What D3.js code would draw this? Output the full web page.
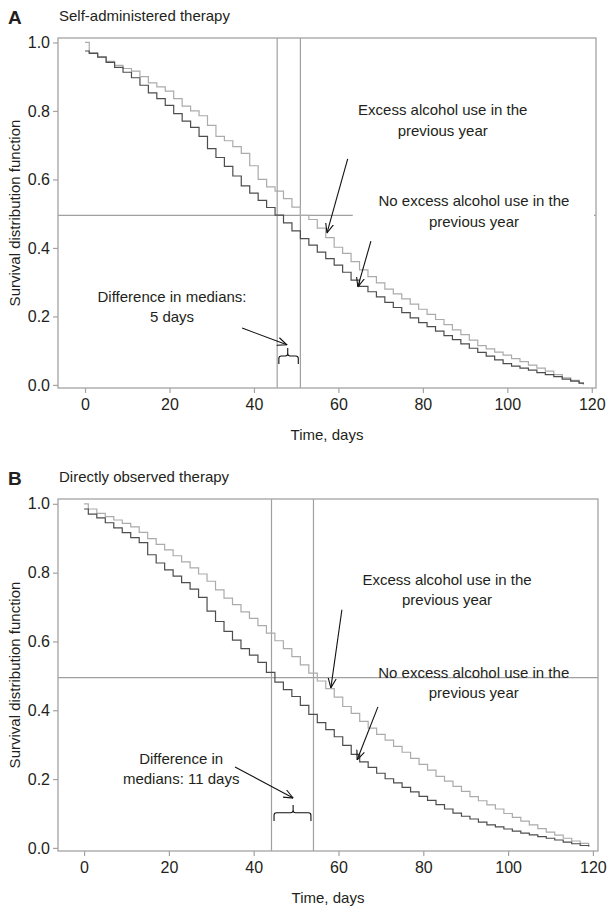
<!DOCTYPE html>
<html>
<head>
<meta charset="utf-8">
<script src="https://cdn.jsdelivr.net/npm/d3@7"></script>
<style>
  html, body { margin: 0; padding: 0; background: #fff; }
  svg { display: block; font-family: "Liberation Sans", Arial, sans-serif; }
</style>
</head>
<body>
<svg id="chart" width="613" height="916"></svg>
<script>
// days at which the step curves were read (step holds until next day listed)
const daysA = [0, 1, 3, 5, 7, 9, 11, 13, 15, 17, 19, 21, 23, 25, 27, 29, 31, 33, 35, 37, 39, 41, 43, 45, 47, 49, 51, 53, 55, 57,
  59, 61, 63, 65, 67, 69, 71, 73, 75, 77, 79, 81, 83, 85, 87, 89, 91, 93, 95, 97, 99, 101, 103, 105, 107, 109, 111, 113, 115, 117, 118];
const daysB = [0, 1, 3, 5, 7, 9, 11, 13, 15, 17, 19, 21, 23, 25, 27, 29, 31, 33, 35, 37, 39, 41, 43, 45, 47, 49, 51, 53, 55, 57,
  59, 61, 63, 65, 67, 69, 71, 73, 75, 77, 79, 81, 83, 85, 87, 89, 91, 93, 95, 97, 99, 101, 103, 105, 107, 109, 111, 113, 115, 117, 119];

// A: self-administered therapy
const excessA = [1.000, 0.970, 0.958, 0.945, 0.933, 0.924, 0.916, 0.900, 0.882, 0.870, 0.858, 0.836,
  0.814, 0.800, 0.786, 0.758, 0.726, 0.713, 0.696, 0.676, 0.640, 0.600, 0.578, 0.566,
  0.544, 0.519, 0.495, 0.483, 0.458, 0.430, 0.402, 0.384, 0.360, 0.336, 0.316, 0.298,
  0.280, 0.266, 0.251, 0.236, 0.221, 0.206, 0.191, 0.176, 0.161, 0.147, 0.131, 0.115,
  0.105, 0.096, 0.087, 0.077, 0.068, 0.058, 0.049, 0.040, 0.030, 0.021, 0.013, 0.005, 0.002];
const noExcessA = [0.975, 0.968, 0.957, 0.942, 0.927, 0.913, 0.897, 0.875, 0.853, 0.836, 0.816, 0.792,
  0.770, 0.752, 0.726, 0.690, 0.664, 0.638, 0.610, 0.581, 0.560, 0.539, 0.518, 0.496,
  0.473, 0.450, 0.427, 0.408, 0.388, 0.369, 0.350, 0.329, 0.306, 0.288, 0.272, 0.257,
  0.241, 0.226, 0.211, 0.196, 0.182, 0.170, 0.157, 0.144, 0.132, 0.120, 0.107, 0.095,
  0.084, 0.073, 0.062, 0.055, 0.049, 0.043, 0.036, 0.030, 0.024, 0.017, 0.011, 0.005, 0.002];

// B: directly observed therapy
const excessB = [1.000, 0.985, 0.972, 0.963, 0.953, 0.943, 0.933, 0.917, 0.899, 0.882, 0.866, 0.849,
  0.831, 0.814, 0.796, 0.775, 0.750, 0.726, 0.707, 0.686, 0.667, 0.646, 0.624, 0.602,
  0.579, 0.556, 0.532, 0.508, 0.485, 0.463, 0.438, 0.411, 0.391, 0.368, 0.348, 0.330,
  0.313, 0.295, 0.278, 0.260, 0.243, 0.226, 0.208, 0.194, 0.179, 0.164, 0.149, 0.137,
  0.125, 0.113, 0.100, 0.089, 0.078, 0.067, 0.056, 0.046, 0.037, 0.028, 0.020, 0.013, 0.004];
const noExcessB = [0.985, 0.970, 0.959, 0.945, 0.930, 0.916, 0.902, 0.887, 0.852, 0.828, 0.808, 0.790,
  0.771, 0.752, 0.728, 0.688, 0.658, 0.629, 0.604, 0.579, 0.560, 0.539, 0.510, 0.482,
  0.460, 0.440, 0.414, 0.388, 0.364, 0.344, 0.323, 0.298, 0.272, 0.250, 0.234, 0.217,
  0.201, 0.189, 0.176, 0.163, 0.150, 0.138, 0.126, 0.113, 0.101, 0.092, 0.084, 0.075,
  0.067, 0.061, 0.055, 0.049, 0.043, 0.038, 0.033, 0.028, 0.023, 0.017, 0.012, 0.007, 0.004];

const mediansA = [45.5, 51];
const mediansB = [44.2, 54.1];

const xTicks = [0, 20, 40, 60, 80, 100, 120];
const yTicks = [0, 0.2, 0.4, 0.6, 0.8, 1.0];

const excessLabel = ['Excess alcohol use in the', 'previous year'];
const noExcessLabel = ['No excess alcohol use in the', 'previous year'];

const panels = [
  {
    letter: 'A', title: 'Self-administered therapy',
    days: daysA, excess: excessA, noExcess: noExcessA, medians: mediansA,
    diffLabel: ['Difference in medians:', '5 days'],
    top: 38, bottom: 388, left: 58, right: 596,
    xDomain: [-6.4, 121], yDomain: [-0.009, 1.013],
    titleY: 21, hLineEnd: 63.4, maskText: true,
    excessText: [84.7, 0.787], excessArrow: [[62.2, 0.660], [57.3, 0.444]],
    noExcessText: [92.1, 0.521], noExcessArrow: [[67.7, 0.420], [64.6, 0.286]],
    diffText: [20.6, 0.2435], diffArrow: [[37.2, 0.166], [47.8, 0.117]],
    brace: { x1: 45.9, x2: 50.5, xc: 48.0, yH: 0.0844, yEnd: 0.061, yPeak: 0.108 }
  },
  {
    letter: 'B', title: 'Directly observed therapy',
    days: daysB, excess: excessB, noExcess: noExcessB, medians: mediansB,
    diffLabel: ['Difference in', 'medians: 11 days'],
    top: 499, bottom: 851, left: 58, right: 598,
    xDomain: [-6.15, 121.2], yDomain: [-0.009, 1.014],
    titleY: 482, hLineEnd: null, maskText: false,
    excessText: [85.6, 0.765], excessArrow: [[60.8, 0.692], [58.2, 0.465]],
    noExcessText: [91.9, 0.494], noExcessArrow: [[69.3, 0.410], [64.4, 0.256]],
    diffText: [22.9, 0.244], diffArrow: [[35.6, 0.235], [49.3, 0.145]],
    brace: { x1: 44.8, x2: 53.5, xc: 49.3, yH: 0.102, yEnd: 0.078, yPeak: 0.125 }
  }
];

const frameColor = '#a3a3a3';
const refColor = '#a0a0a0';
const lightColor = '#ababab';
const darkColor = '#4d4d4d';
const textColor = '#231f20';
const lineGap = 20.5;

const svg = d3.select('#chart');

svg.append('defs').append('marker')
  .attr('id', 'arrow')
  .attr('viewBox', '0 0 10 10')
  .attr('refX', 9.5)
  .attr('refY', 5)
  .attr('markerWidth', 10)
  .attr('markerHeight', 10)
  .attr('markerUnits', 'userSpaceOnUse')
  .attr('orient', 'auto')
  .append('path')
    .attr('d', 'M0,1 L9.5,5 L0,9')
    .attr('fill', 'none')
    .attr('stroke', '#111')
    .attr('stroke-width', 1.1);

function twoLines(g, x, y, lines) {
  const t = g.append('text')
    .attr('x', x)
    .attr('y', y)
    .attr('text-anchor', 'middle')
    .attr('font-size', 15)
    .attr('fill', textColor);
  lines.forEach((line, i) => {
    t.append('tspan').attr('x', x).attr('dy', i === 0 ? 0 : lineGap).text(line);
  });
}

function drawPanel(p) {
  const g = svg.append('g');

  const x = d3.scaleLinear().domain(p.xDomain).range([p.left, p.right]);
  const y = d3.scaleLinear().domain(p.yDomain).range([p.bottom, p.top]);

  // panel letter + title
  g.append('text')
    .attr('x', 8).attr('y', p.titleY + 3)
    .attr('font-size', 19).attr('font-weight', 'bold')
    .attr('fill', textColor)
    .text(p.letter);
  g.append('text')
    .attr('x', 59).attr('y', p.titleY)
    .attr('font-size', 15)
    .attr('fill', textColor)
    .text(p.title);

  // axes
  const xAxis = g.append('g')
    .attr('transform', `translate(0, ${p.bottom})`)
    .call(d3.axisBottom(x).tickValues(xTicks).tickSize(5).tickSizeOuter(0).tickPadding(6));
  const yAxis = g.append('g')
    .attr('transform', `translate(${p.left}, 0)`)
    .call(d3.axisLeft(y).tickValues(yTicks).tickFormat(d3.format('.1f')).tickSize(5).tickSizeOuter(0).tickPadding(3));

  [xAxis, yAxis].forEach((a) => {
    a.select('.domain').remove();
    a.selectAll('.tick line').attr('stroke', frameColor).attr('stroke-width', 1.2);
    a.selectAll('.tick text')
      .attr('font-size', 16)
      .attr('font-family', '"Liberation Sans", Arial, sans-serif')
      .attr('fill', textColor);
  });

  g.append('text')
    .attr('x', (p.left + p.right) / 2)
    .attr('y', p.bottom + 52)
    .attr('text-anchor', 'middle')
    .attr('font-size', 15)
    .attr('fill', textColor)
    .text('Time, days');

  g.append('text')
    .attr('transform', `translate(20, ${(p.top + p.bottom) / 2}) rotate(-90)`)
    .attr('text-anchor', 'middle')
    .attr('font-size', 15)
    .attr('fill', textColor)
    .text('Survival distribution function');

  // reference lines at the medians and at 0.5
  p.medians.forEach((m) => {
    g.append('line')
      .attr('x1', x(m)).attr('x2', x(m))
      .attr('y1', p.top).attr('y2', p.bottom)
      .attr('stroke', refColor).attr('stroke-width', 1.2);
  });
  g.append('line')
    .attr('x1', p.left)
    .attr('x2', p.right)
    .attr('y1', y(0.495)).attr('y2', y(0.495))
    .attr('stroke', refColor).attr('stroke-width', 1.2);

  // survival curves
  const line = d3.line()
    .x((d) => x(d[0]))
    .y((d) => y(d[1]))
    .curve(d3.curveStepAfter);

  g.append('path')
    .datum(p.days.map((d, i) => [d, p.excess[i]]))
    .attr('d', line)
    .attr('fill', 'none')
    .attr('stroke', lightColor)
    .attr('stroke-width', 1.2);

  g.append('path')
    .datum(p.days.map((d, i) => [d, p.noExcess[i]]))
    .attr('d', line)
    .attr('fill', 'none')
    .attr('stroke', darkColor)
    .attr('stroke-width', 1.2);

  // white box behind the label cuts the 0.5 line in panel A
  if (p.maskText) {
    g.append('rect')
      .attr('x', x(p.hLineEnd))
      .attr('y', y(p.noExcessText[1]) - 17)
      .attr('width', p.right - 2 - x(p.hLineEnd))
      .attr('height', 43)
      .attr('fill', '#fff');
  }

  // frame
  g.append('rect')
    .attr('x', p.left).attr('y', p.top)
    .attr('width', p.right - p.left).attr('height', p.bottom - p.top)
    .attr('fill', 'none')
    .attr('stroke', frameColor)
    .attr('stroke-width', 1.3);

  // annotations
  twoLines(g, x(p.excessText[0]), y(p.excessText[1]), excessLabel);
  twoLines(g, x(p.noExcessText[0]), y(p.noExcessText[1]), noExcessLabel);
  twoLines(g, x(p.diffText[0]), y(p.diffText[1]), p.diffLabel);

  [p.excessArrow, p.noExcessArrow, p.diffArrow].forEach((a) => {
    g.append('line')
      .attr('x1', x(a[0][0])).attr('y1', y(a[0][1]))
      .attr('x2', x(a[1][0])).attr('y2', y(a[1][1]))
      .attr('stroke', '#111')
      .attr('stroke-width', 1.1)
      .attr('marker-end', 'url(#arrow)');
  });

  const b = p.brace;
  const x1 = x(b.x1), x2 = x(b.x2), xc = x(b.xc);
  const yH = y(b.yH), yE = y(b.yEnd), yP = y(b.yPeak);
  const r = 2.5;
  const bracePath = [
    `M${x1},${yE}`, `L${x1},${yH + r}`, `Q${x1},${yH} ${x1 + r},${yH}`,
    `L${xc - r},${yH}`, `Q${xc},${yH} ${xc},${yH - r}`, `L${xc},${yP}`,
    `M${xc},${yH - r}`, `Q${xc},${yH} ${xc + r},${yH}`,
    `L${x2 - r},${yH}`, `Q${x2},${yH} ${x2},${yH + r}`, `L${x2},${yE}`
  ].join(' ');
  g.append('path')
    .attr('d', bracePath)
    .attr('fill', 'none')
    .attr('stroke', '#111')
    .attr('stroke-width', 1.1);
}

panels.forEach(drawPanel);
</script>
</body>
</html>
